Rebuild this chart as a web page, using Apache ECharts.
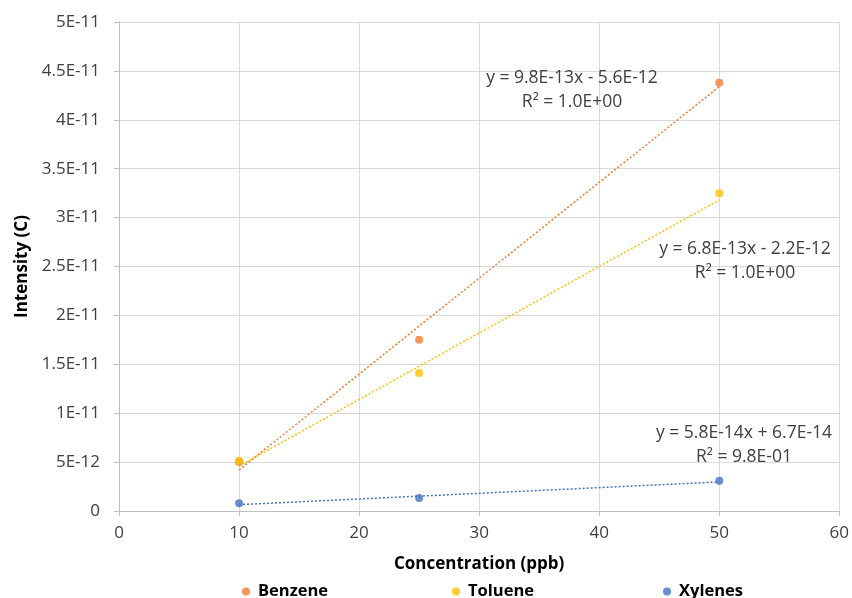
<!DOCTYPE html>
<html><head><meta charset="utf-8">
<script src="https://cdn.jsdelivr.net/npm/echarts@6/dist/echarts.min.js"></script>
<style>html,body{margin:0;padding:0;background:#fff}#c{width:852px;height:598px}</style>
</head><body><div id="c"></div>
<script>
const concentrations = [10, 25, 50];
const benzene = [5.0e-12, 1.75e-11, 4.38e-11];
const toluene = [5.14e-12, 1.41e-11, 3.25e-11];
const xylenes = [7.9e-13, 1.33e-12, 3.1e-12];
// trendline endpoints (at x = 10 and x = 50)
const trendX = [10, 50];
const benzeneTrend = [4.2e-12, 4.34e-11];
const tolueneTrend = [4.6e-12, 3.18e-11];
const xylenesTrend = [6.5e-13, 2.97e-12];
const yTickLabels = ['0','5E-12','1E-11','1.5E-11','2E-11','2.5E-11','3E-11','3.5E-11','4E-11','4.5E-11','5E-11'];
const equations = [
  ['y = 9.8E-13x - 5.6E-12', 'R² = 1.0E+00'],
  ['y = 6.8E-13x - 2.2E-12', 'R² = 1.0E+00'],
  ['y = 5.8E-14x + 6.7E-14', 'R² = 9.8E-01']
];
const names = ['Benzene', 'Toluene', 'Xylenes'];
const colors = ['#ED7D31', '#FFC000', '#4472C4'];

const FONT = 'Open Sans';
const pts = a => concentrations.map((x, i) => [x, a[i]]);
const tr = a => trendX.map((x, i) => [x, a[i]]);
const scat = [benzene, toluene, xylenes];
const trends = [benzeneTrend, tolueneTrend, xylenesTrend];

const series = [];
trends.forEach((t, i) => series.push({
  name: names[i] + ' trend', type: 'line', data: tr(t), showSymbol: false, silent: true,
  lineStyle: {color: colors[i], width: 1.5, type: [2, 2]}, z: 2, animation: false
}));
scat.forEach((s, i) => series.push({
  name: names[i], type: 'scatter', data: pts(s), symbol: 'circle', symbolSize: 8,
  itemStyle: {color: colors[i]}, z: 3, animation: false
}));

const eqPos = [[572, 90], [745, 261], [744, 445]];
const graphic = equations.map((e, i) => ({
  type: 'text', x: eqPos[i][0], y: eqPos[i][1], z: 10,
  style: {text: e[0] + '\n' + e[1], align: 'center', verticalAlign: 'middle',
    font: '17.5px "' + FONT + '"', fill: '#404040', lineHeight: 24}
}));

const legendLeft = [237, 447, 658];
const legends = names.map((n, i) => ({
  data: [n], left: legendLeft[i], top: 578, icon: 'circle', itemWidth: 8, itemHeight: 8, itemGap: 0,
  textStyle: {fontFamily: FONT, fontWeight: 'bold', fontSize: 16.5, color: '#000', padding: [0, 0, 0, 3]}
}));

const chart = echarts.init(document.getElementById('c'), null, {renderer: 'canvas'});
chart.setOption({
  backgroundColor: '#fff',
  animation: false,
  grid: {left: 119, right: 12, top: 22, bottom: 87, containLabel: false},
  xAxis: {
    type: 'value', min: 0, max: 60, interval: 10,
    name: 'Concentration (ppb)', nameLocation: 'middle', nameGap: 45,
    nameTextStyle: {fontFamily: FONT, fontWeight: 'bold', fontSize: 17, color: '#000'},
    axisLine: {lineStyle: {color: '#bfbfbf'}},
    axisTick: {show: true, length: 5, lineStyle: {color: '#bfbfbf'}},
    axisLabel: {fontFamily: FONT, fontSize: 17, color: '#404040', margin: 14},
    splitLine: {lineStyle: {color: '#d9d9d9'}}
  },
  yAxis: {
    type: 'value', min: 0, max: 5e-11, interval: 5e-12,
    name: 'Intensity (C)', nameLocation: 'middle', nameGap: 87, nameRotate: 90,
    nameTextStyle: {fontFamily: FONT, fontWeight: 'bold', fontSize: 17, color: '#000'},
    axisLine: {show: true, lineStyle: {color: '#bfbfbf'}},
    axisTick: {show: true, length: 5, lineStyle: {color: '#bfbfbf'}},
    axisLabel: {fontFamily: FONT, fontSize: 17, color: '#404040', margin: 19,
      formatter: (v, idx) => yTickLabels[Math.round(v / 5e-12)]},
    splitLine: {lineStyle: {color: '#d9d9d9'}}
  },
  legend: legends,
  graphic: graphic,
  series: series
});
</script></body></html>
